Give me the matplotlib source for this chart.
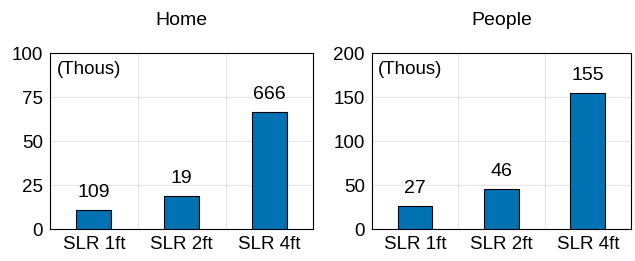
import matplotlib
matplotlib.use("Agg")
import matplotlib.pyplot as plt

categories = ["SLR 1ft", "SLR 2ft", "SLR 4ft"]
home_values = [10.9, 19, 66.6]
home_labels = ["109", "19", "666"]
people_values = [27, 46, 155]
people_labels = ["27", "46", "155"]

plt.rcParams['font.family'] = ['Liberation Sans', 'DejaVu Sans']

fig = plt.figure(figsize=(6.35, 2.61), dpi=100)
ax1 = fig.add_axes([0.0787, 0.1215, 0.4147, 0.6742])
ax2 = fig.add_axes([0.5853, 0.1215, 0.4084, 0.6742])

color = "#0072B2"

def draw(ax, vals, labels, title, ymax, yticks):
    x = [1, 2, 3]
    ax.bar(x, vals, width=0.4, color=color, edgecolor="black", linewidth=0.8, zorder=3)
    for xi, v, lab in zip(x, vals, labels):
        ax.annotate(lab, (xi, v), xytext=(0, 6.5), textcoords="offset points",
                    ha="center", va="bottom", fontsize=14)
    ax.set_xlim(0.5, 3.5)
    ax.set_ylim(0, ymax)
    ax.set_xticks(x)
    ax.set_xticklabels(categories, fontsize=13.5)
    ax.set_yticks(yticks)
    ax.set_yticklabels([str(t) for t in yticks], fontsize=13.5)
    ax.set_xticks([1.5, 2.5], minor=True)
    ax.grid(True, which="minor", axis="x", color="#e6e6e6", linewidth=0.8, zorder=0)
    ax.grid(True, which="major", axis="y", color="#e6e6e6", linewidth=0.8, zorder=0)
    ax.tick_params(which="both", length=0, pad=5)
    for s in ax.spines.values():
        s.set_color("black")
        s.set_linewidth(0.8)
    ax.set_title(title, fontsize=14, pad=20.5)
    ax.text(0.025, 0.955, "(Thous)", transform=ax.transAxes, ha="left", va="top", fontsize=13.5)

draw(ax1, home_values, home_labels, "Home", 100, [0, 25, 50, 75, 100])
draw(ax2, people_values, people_labels, "People", 200, [0, 50, 100, 150, 200])

fig.savefig("out.png", dpi=100)
